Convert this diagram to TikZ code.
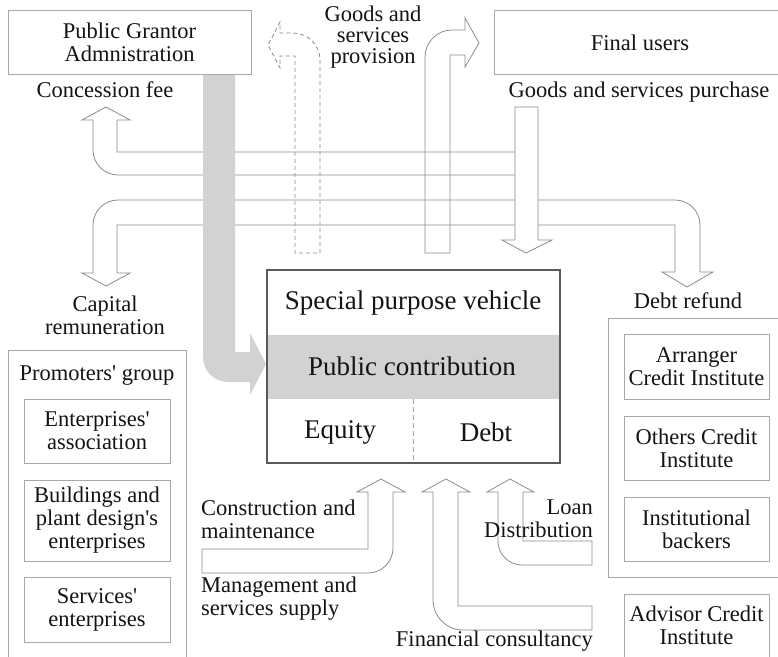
\documentclass[tikz,border=0pt]{standalone}
\usepackage{fontspec}
\setmainfont{Liberation Serif}
\definecolor{boxc}{HTML}{A8A8A8}
\definecolor{arrc}{HTML}{8C8C8C}
\definecolor{grayf}{HTML}{D2D2D2}
\definecolor{txtc}{HTML}{141414}
\definecolor{spvc}{HTML}{5A5A5A}
\newcommand{\sq}{\textquotesingle}
\begin{document}
\begin{tikzpicture}[x=1pt,y=-1pt,
  bx/.style={draw=boxc, line width=0.8pt},
  arr/.style={draw=arrc, line width=0.8pt, line join=miter},
  txt/.style={inner sep=0pt, align=center, text=txtc, font=\fontsize{22.5}{23}\selectfont},
  bigtxt/.style={inner sep=0pt, text=txtc, font=\fontsize{27}{28}\selectfont}]
\useasboundingbox (0,0) rectangle (778,656);
\clip (0,0) rectangle (778,656);
\fill[white] (0,0) rectangle (778,656);

% upper band: concession fee
\draw[arr] (515,152) -- (117,152) -- (117,120) -- (130,120) -- (106,107) -- (82,120) -- (93,120) -- (93,150)
  arc[start angle=180, end angle=90, radius=25] -- (515,175);
% lower band: capital remuneration and debt refund
\draw[arr] (675,200) -- (118,200) arc[start angle=270, end angle=180, radius=25] -- (93,273) -- (82,273) -- (106,286) -- (130,273) -- (117,273) -- (117,225)
  -- (675,225) -- (675,272) -- (662,272) -- (687,287) -- (713,272) -- (700,272) -- (700,225)
  arc[start angle=0, end angle=-90, radius=25];

% goods and services provision (solid)
\draw[arr] (425,253) -- (425,57) arc[start angle=180, end angle=270, radius=27] -- (465,30) -- (465,18) -- (479,43) -- (465,67) -- (465,55) -- (450,55) -- (450,253) -- cycle;
% dashed provision to grantor
\draw[arr, dashed, dash pattern=on 4pt off 3pt] (320,253) -- (320,60) arc[start angle=0, end angle=-90, radius=27] -- (280,33) -- (280,22) -- (268,45) -- (280,68) -- (280,56) -- (295,56) -- (295,253) -- cycle;

% gray public contribution flow
\fill[grayf] (203,75) -- (235,75) -- (235,352) -- (250,352) -- (250,333) -- (266,364) -- (250,395) -- (250,382) -- (228,382)
  arc[start angle=90, end angle=180, radius=25] -- cycle;

% goods and services purchase
\draw[arr, fill=white] (515,107) -- (538,107) -- (538,240) -- (552,240) -- (526,253) -- (502,240) -- (515,240) -- cycle;

% top boxes
\draw[bx] (8,10) rectangle (251,74);
\node[txt] (pga) at (129.5,42) {Public Grantor\\Admnistration};
\draw[bx] (494,10) rectangle (790,74);
\node[txt] (fu) at (640,43) {Final users};

\node[txt] (cf) at (105,90) {Concession fee};
\node[txt, font=\fontsize{22.5}{21}\selectfont] (gsp) at (373,37) {Goods and\\services\\provision};
\node[txt] (gspu) at (639,92) {Goods and services purchase};
\node[txt] (cr) at (105,315) {Capital\\remuneration};
\node[txt] (dr) at (688,301) {Debt refund};

% SPV
\fill[grayf] (267,335) rectangle (560,399);
\draw[spvc, line width=1.1pt] (267,270) rectangle (560,463);
\draw[boxc, line width=0.8pt, dashed, dash pattern=on 5pt off 3pt] (413,399) -- (413,463);
\node[bigtxt] (spv) at (413,303) {Special purpose vehicle};
\node[bigtxt] (pc) at (412,366) {Public contribution};
\node[bigtxt] (eq) at (340,432) {Equity};
\node[bigtxt] (debt) at (486,432) {Debt};

% promoters' group
\draw[bx] (8,350) rectangle (186,670);
\node[txt] (pgr) at (97,376) {Promoters\sq{} group};
\draw[bx] (24,399) rectangle (170,463);
\node[txt] (ea) at (97,431) {Enterprises\sq\\association};
\draw[bx] (24,480) rectangle (170,561);
\node[txt] (bp) at (97,520.5) {Buildings and\\plant design\sq s\\enterprises};
\draw[bx] (24,577) rectangle (170,642);
\node[txt] (se) at (97,609.5) {Services\sq\\enterprises};

% credit institutes
\draw[bx] (608,318) rectangle (790,577);
\draw[bx] (624,334) rectangle (769,399);
\node[txt] (aci) at (696.5,366.5) {Arranger\\Credit Institute};
\draw[bx] (624,416) rectangle (769,480);
\node[txt] (oci) at (696.5,448) {Others Credit\\Institute};
\draw[bx] (624,497) rectangle (769,561);
\node[txt] (ib) at (696.5,529) {Institutional\\backers};
\draw[bx] (624,594) rectangle (769,670);
\node[txt] (adv) at (696.5,625) {Advisor Credit\\Institute};

% bottom arrows
\draw[arr] (202,549) -- (368,549) -- (368,492) -- (357,492) -- (381,479) -- (405,492) -- (393,492) -- (393,548)
  arc[start angle=0, end angle=90, radius=25] -- (202,573) -- cycle;
\draw[arr] (592,606) -- (458,606) -- (458,492) -- (470,492) -- (446,479) -- (422,492) -- (433,492) -- (433,600)
  arc[start angle=180, end angle=90, radius=30] -- (592,630) -- cycle;
\draw[arr] (592,541) -- (523,541) -- (523,492) -- (534,492) -- (510,479) -- (487,492) -- (498,492) -- (498,541)
  arc[start angle=180, end angle=90, radius=24] -- (592,565) -- cycle;

\node[txt, anchor=west, align=left] (cm) at (201,519) {Construction and\\maintenance};
\node[txt, anchor=west, align=left] (ms) at (201,599) {Management and\\services supply};
\node[txt, anchor=east, align=right] (ld) at (593,519) {Loan\\Distribution};
\node[txt, anchor=east, align=right] (fc) at (593,641) {Financial consultancy};
\end{tikzpicture}
\end{document}
